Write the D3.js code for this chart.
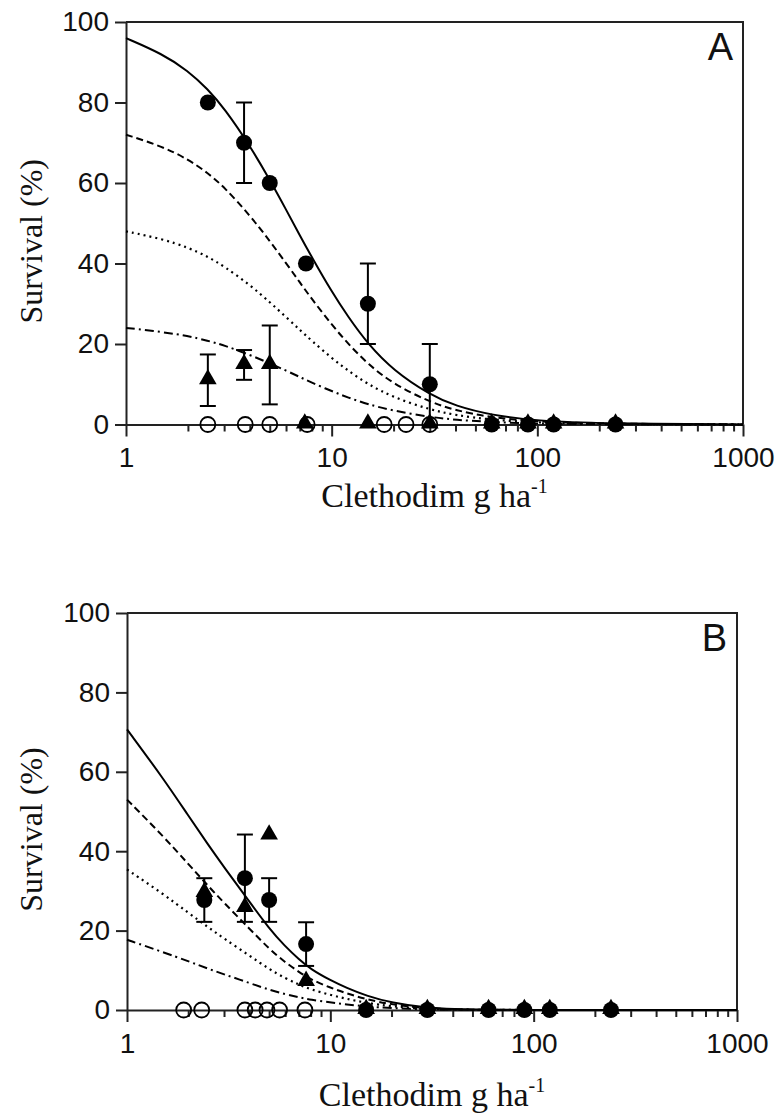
<!DOCTYPE html>
<meta charset="utf-8" />
<title>Clethodim survival</title>
<style>
  body { margin: 0; background: #fff; }
  svg { display: block; }
  .tick text { font-family: "Liberation Sans", Arial, sans-serif; font-size: 28px; fill: #111; }
  .tick line { stroke: #222; stroke-width: 2px; }
  .domain { stroke: #222; stroke-width: 2px; }
  .title { font-family: "Liberation Serif", "Times New Roman", serif; font-size: 34px; fill: #111; }
  .ytitle { font-size: 32px; }
  .panel-label { font-family: "Liberation Sans", Arial, sans-serif; font-size: 38px; fill: #111; }
</style>
<body>
<svg width="781" height="1113"></svg>
<script src="https://d3js.org/d3.v7.min.js"></script>
<script>
// fitted curves at these doses
const curveDose = [1, 1.5, 2, 2.5, 3, 4, 5, 6, 7, 8, 10, 12, 15, 20, 30, 40, 60, 100, 200, 1000];
const solidA   = [96, 92.1, 87.9, 83.3, 78.6, 69.3, 60.8, 53.4, 47, 41.6, 33, 26.8, 20, 13.4, 7.4, 4.6, 2.3, 0.9, 0.25, 0];
const dashedA  = [72, 69.1, 65.9, 62.5, 59, 52, 45.6, 40.1, 35.3, 31.2, 24.8, 20.1, 15, 10, 5.6, 3.5, 1.7, 0.7, 0.2, 0];
const dottedA  = [48, 46.1, 44, 41.7, 39.3, 34.7, 30.4, 26.7, 23.5, 20.8, 16.5, 13.4, 10, 6.7, 3.7, 2.3, 1.15, 0.45, 0.12, 0];
const dashdotA = [24, 23, 22, 20.8, 19.7, 17.3, 15.2, 13.4, 11.8, 10.4, 8.3, 6.7, 5, 3.4, 1.85, 1.15, 0.6, 0.22, 0.06, 0];

const solidB   = [70.7, 58.5, 49, 41.7, 36, 27.3, 20.5, 16, 12.8, 10.3, 7.5, 5.6, 3.6, 1.8, 0.5, 0.2, 0.05, 0, 0, 0];
const dashedB  = [53, 43.9, 36.8, 31.3, 27, 20.5, 15.4, 12, 9.6, 7.7, 5.6, 4.2, 2.7, 1.35, 0.4, 0.15, 0.04, 0, 0, 0];
const dottedB  = [35.4, 29.3, 24.5, 20.9, 18, 13.7, 10.3, 8, 6.4, 5.2, 3.8, 2.8, 1.8, 0.9, 0.25, 0.1, 0.03, 0, 0, 0];
const dashdotB = [17.7, 14.6, 12.3, 10.4, 9, 6.8, 5.1, 4, 3.2, 2.6, 1.9, 1.4, 0.9, 0.45, 0.12, 0.05, 0.01, 0, 0, 0];

// panel A observations
const doseA = [2.5, 3.75, 5, 7.5, 15, 30, 60, 90, 120, 240];
const circleA = [80, 70, 60, 40, 30, 10, 0, 0, 0, 0];
const circleErrA = [0, 10, 0, 0, 10, 10, 0, 0, 0, 0];
const triangleDoseA = [2.5, 3.75, 5, 7.4, 15, 30, 60, 90, 120, 240];
const triangleA = [11, 14.8, 14.8, 0, 0, 0, 0, 0, 0, 0];
const triangleErrA = [6.4, 3.7, 9.8, 0, 0, 0, 0, 0, 0, 0];
const openDoseA = [2.5, 3.8, 5, 7.6, 18, 23, 30];

// panel B observations
const doseB = [2.4, 3.8, 5, 7.6, 15, 30, 60, 90, 120, 240];
const circleB = [27.7, 33.2, 27.7, 16.6, 0, 0, 0, 0, 0, 0];
const circleErrB = [5.5, 11, 5.5, 5.5, 0, 0, 0, 0, 0, 0];
const triangleB = [29.5, 25.7, 44, 7.1, 0, 0, 0, 0, 0, 0];
const openDoseB = [1.9, 2.33, 3.8, 4.27, 4.88, 5.63, 7.5];

const yTicks = [0, 20, 40, 60, 80, 100];
const xTicks = [1, 10, 100, 1000];
const lineStyles = ["none", "7,4", "2,4", "9,4,2,4"];

const svg = d3.select("svg");

const panels = [
  { label: "A", left: 126, right: 743, top: 22, bottom: 424.5, titleGap: 82,
    curves: [solidA, dashedA, dottedA, dashdotA],
    dose: doseA, circ: circleA, circErr: circleErrA,
    triDose: triangleDoseA, tri: triangleA, triErr: triangleErrA, open: openDoseA },
  { label: "B", left: 127, right: 737, top: 613, bottom: 1010, titleGap: 96,
    curves: [solidB, dashedB, dottedB, dashdotB],
    dose: doseB, circ: circleB, circErr: circleErrB,
    triDose: doseB, tri: triangleB, triErr: doseB.map(() => 0), open: openDoseB }
];

panels.forEach(p => {
  const x = d3.scaleLog().domain([1, 1000]).range([p.left, p.right]);
  const y = d3.scaleLinear().domain([0, 100]).range([p.bottom, p.top]);
  const g = svg.append("g");

  // frame top and right
  g.append("path")
    .attr("d", `M${p.left},${p.top}H${p.right}V${p.bottom}`)
    .attr("fill", "none").attr("stroke", "#222").attr("stroke-width", 2);

  // minor x ticks
  const minor = [];
  [1, 10, 100].forEach(dec => { for (let k = 2; k <= 9; k++) minor.push(dec * k); });
  g.append("g")
    .attr("transform", `translate(0,${p.bottom})`)
    .call(d3.axisBottom(x).tickValues(minor).tickSize(7).tickFormat(""))
    .call(s => s.select(".domain").remove());

  g.append("g")
    .attr("transform", `translate(0,${p.bottom})`)
    .call(d3.axisBottom(x).tickValues(xTicks).tickSize(12).tickSizeOuter(0).tickPadding(11).tickFormat(d3.format("d")));

  g.append("g")
    .attr("transform", `translate(${p.left},0)`)
    .call(d3.axisLeft(y).tickValues(yTicks).tickSize(11).tickSizeOuter(0).tickPadding(6));

  // fitted curves
  const line = d3.line().x(d => x(d[0])).y(d => y(d[1])).curve(d3.curveBasis);
  p.curves.forEach((vals, i) => {
    g.append("path")
      .datum(curveDose.map((d, j) => [d, vals[j]]))
      .attr("d", line)
      .attr("fill", "none")
      .attr("stroke", "#000")
      .attr("stroke-width", i === 2 ? 2.2 : 2)
      .attr("stroke-dasharray", lineStyles[i]);
  });

  // error bars
  const bars = [];
  p.dose.forEach((d, i) => { if (p.circErr[i] > 0) bars.push([d, p.circ[i], p.circErr[i]]); });
  p.triDose.forEach((d, i) => { if (p.triErr[i] > 0) bars.push([d, p.tri[i], p.triErr[i]]); });
  const eb = g.append("g").attr("stroke", "#000").attr("stroke-width", 2);
  bars.forEach(b => {
    const cx = x(b[0]), y1 = y(b[1] + b[2]), y0 = y(Math.max(0, b[1] - b[2]));
    eb.append("line").attr("x1", cx).attr("x2", cx).attr("y1", y1).attr("y2", y0);
    eb.append("line").attr("x1", cx - 8).attr("x2", cx + 8).attr("y1", y1).attr("y2", y1);
    if (b[1] - b[2] > 0) eb.append("line").attr("x1", cx - 8).attr("x2", cx + 8).attr("y1", y0).attr("y2", y0);
  });

  // open circles
  g.selectAll(null).data(p.open).join("circle")
    .attr("cx", d => x(d)).attr("cy", y(0)).attr("r", 7.5)
    .attr("fill", "none").attr("stroke", "#000").attr("stroke-width", 1.8);

  // triangles
  const tri = d3.symbol().type(d3.symbolTriangle).size(135);
  g.selectAll(null).data(p.triDose.map((d, i) => [d, p.tri[i]])).join("path")
    .attr("d", tri)
    .attr("transform", d => `translate(${x(d[0])},${y(d[1]) - 1})`)
    .attr("fill", "#000");

  // filled circles
  g.selectAll(null).data(p.dose.map((d, i) => [d, p.circ[i]])).join("circle")
    .attr("cx", d => x(d[0])).attr("cy", d => y(d[1])).attr("r", 8)
    .attr("fill", "#000");

  // axis titles
  const xt = g.append("text").attr("class", "title")
    .attr("x", (p.left + p.right) / 2).attr("y", p.bottom + p.titleGap)
    .attr("text-anchor", "middle");
  xt.append("tspan").text("Clethodim g ha");
  xt.append("tspan").attr("dy", -14).style("font-size", "20px").text("-1");

  g.append("text").attr("class", "title ytitle")
    .attr("transform", `translate(42,${(p.top + p.bottom) / 2 + 18}) rotate(-90)`)
    .attr("text-anchor", "middle")
    .text("Survival (%)");

  g.append("text").attr("class", "panel-label")
    .attr("x", p.right - 10).attr("y", p.top + 38)
    .attr("text-anchor", "end")
    .text(p.label);
});
</script>
</body>
